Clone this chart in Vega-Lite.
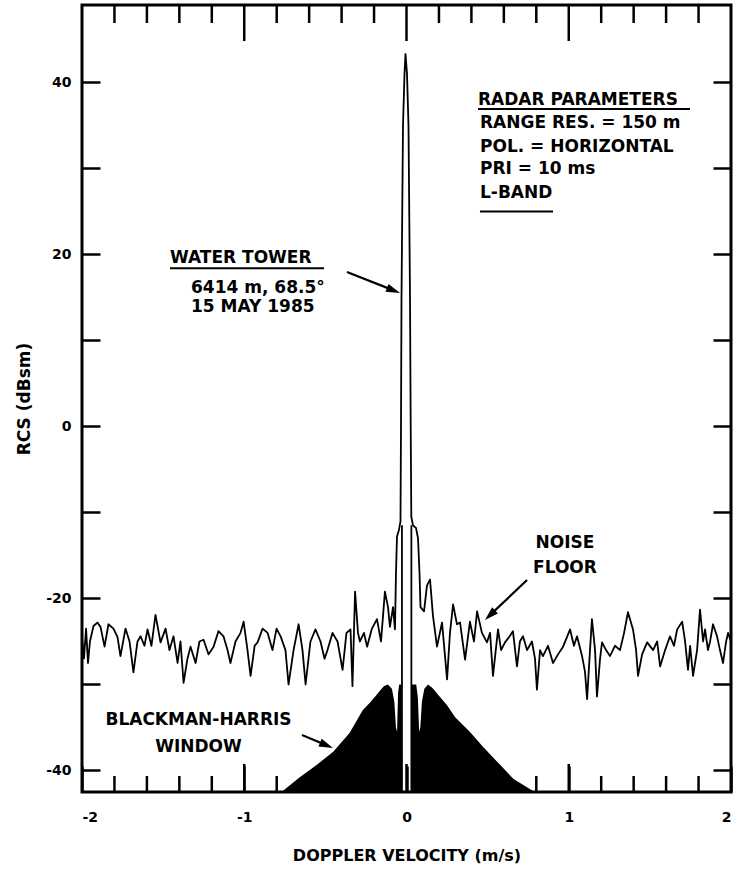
{
  "$schema": "https://vega.github.io/schema/vega-lite/v6.json",
  "autosize": "none",
  "width": 649,
  "height": 787,
  "padding": {"left": 82, "top": 5, "right": 2, "bottom": 84},
  "background": "white",
  "config": {
    "view": {"stroke": "black", "strokeWidth": 3},
    "axis": {"domain": false, "grid": false, "ticks": true, "tickColor": "black", "tickWidth": 2.5, "labelColor": "black", "labelFont": "DejaVu Sans", "labelFontWeight": "bold", "labelFontSize": 14, "titleFont": "DejaVu Sans", "titleFontWeight": "bold", "titleColor": "black", "titleFontSize": 16},
    "text": {"font": "DejaVu Sans", "fontWeight": "bold", "fontSize": 17, "color": "black"}
  },
  "resolve": {"axis": {"x": "independent", "y": "independent"}},
  "datasets": {
    "window": [
      {"v": -0.77, "rcs": -42.5}, {"v": -0.66, "rcs": -40.8}, {"v": -0.55, "rcs": -39.3}, {"v": -0.45, "rcs": -37.8}, {"v": -0.35, "rcs": -35.6}, {"v": -0.27, "rcs": -33}, {"v": -0.22, "rcs": -32}, {"v": -0.175, "rcs": -31}, {"v": -0.14, "rcs": -30.2}, {"v": -0.115, "rcs": -30}, {"v": -0.09, "rcs": -30.5}, {"v": -0.075, "rcs": -32}, {"v": -0.065, "rcs": -35}, {"v": -0.058, "rcs": -35.5}, {"v": -0.052, "rcs": -31}, {"v": -0.045, "rcs": -30}, {"v": -0.032, "rcs": -30}, {"v": -0.028, "rcs": -42.5}, {"v": 0.03, "rcs": -42.5}, {"v": 0.034, "rcs": -30}, {"v": 0.06, "rcs": -30}, {"v": 0.07, "rcs": -31.5}, {"v": 0.078, "rcs": -35.5}, {"v": 0.085, "rcs": -35}, {"v": 0.095, "rcs": -32}, {"v": 0.11, "rcs": -30.5}, {"v": 0.133, "rcs": -30}, {"v": 0.16, "rcs": -30.4}, {"v": 0.2, "rcs": -31.3}, {"v": 0.25, "rcs": -32.4}, {"v": 0.3, "rcs": -33.8}, {"v": 0.39, "rcs": -35.5}, {"v": 0.47, "rcs": -37.2}, {"v": 0.56, "rcs": -39}, {"v": 0.66, "rcs": -41}, {"v": 0.79, "rcs": -42.5}
    ],
    "core": [{"v": -0.028}, {"v": 0.03}],
    "minorTicks": [{"v": -1.8}, {"v": -1.6}, {"v": -1.4}, {"v": -1.2}, {"v": -0.8}, {"v": -0.6}, {"v": -0.4}, {"v": -0.2}, {"v": 0.2}, {"v": 0.4}, {"v": 0.6}, {"v": 0.8}, {"v": 1.2}, {"v": 1.4}, {"v": 1.6}, {"v": 1.8}],
    "majorTicks": [{"v": -1}, {"v": 0}, {"v": 1}],
    "noise": [
      {"v": -2.0, "rcs": -24.5}, {"v": -1.988, "rcs": -27}, {"v": -1.975, "rcs": -23.5}, {"v": -1.963, "rcs": -27.5}, {"v": -1.951, "rcs": -25}, {"v": -1.929, "rcs": -23.2}, {"v": -1.905, "rcs": -22.8}, {"v": -1.886, "rcs": -23.3}, {"v": -1.861, "rcs": -25.6}, {"v": -1.837, "rcs": -23}, {"v": -1.806, "rcs": -23.5}, {"v": -1.781, "rcs": -24.5}, {"v": -1.763, "rcs": -26.7}, {"v": -1.732, "rcs": -23.5}, {"v": -1.707, "rcs": -25}, {"v": -1.683, "rcs": -28.6}, {"v": -1.658, "rcs": -25}, {"v": -1.639, "rcs": -24.4}, {"v": -1.615, "rcs": -25.5}, {"v": -1.596, "rcs": -23.6}, {"v": -1.572, "rcs": -25.5}, {"v": -1.547, "rcs": -21.9}, {"v": -1.516, "rcs": -25.1}, {"v": -1.485, "rcs": -23.5}, {"v": -1.461, "rcs": -26}, {"v": -1.436, "rcs": -24.4}, {"v": -1.411, "rcs": -27.5}, {"v": -1.393, "rcs": -25}, {"v": -1.374, "rcs": -29.8}, {"v": -1.35, "rcs": -27}, {"v": -1.331, "rcs": -25.6}, {"v": -1.3, "rcs": -27.5}, {"v": -1.276, "rcs": -25}, {"v": -1.251, "rcs": -24.8}, {"v": -1.22, "rcs": -26.5}, {"v": -1.189, "rcs": -25.6}, {"v": -1.159, "rcs": -23.8}, {"v": -1.128, "rcs": -24.4}, {"v": -1.103, "rcs": -26}, {"v": -1.085, "rcs": -27.5}, {"v": -1.054, "rcs": -25}, {"v": -1.023, "rcs": -24}, {"v": -1.004, "rcs": -22.7}, {"v": -0.98, "rcs": -26}, {"v": -0.961, "rcs": -29}, {"v": -0.936, "rcs": -25.5}, {"v": -0.918, "rcs": -25.1}, {"v": -0.887, "rcs": -23.5}, {"v": -0.856, "rcs": -24}, {"v": -0.826, "rcs": -26}, {"v": -0.801, "rcs": -23.5}, {"v": -0.776, "rcs": -24.4}, {"v": -0.746, "rcs": -26}, {"v": -0.727, "rcs": -30}, {"v": -0.696, "rcs": -26}, {"v": -0.665, "rcs": -23}, {"v": -0.641, "rcs": -26}, {"v": -0.622, "rcs": -30}, {"v": -0.592, "rcs": -25}, {"v": -0.561, "rcs": -23.6}, {"v": -0.53, "rcs": -25}, {"v": -0.505, "rcs": -27}, {"v": -0.487, "rcs": -26}, {"v": -0.456, "rcs": -24}, {"v": -0.425, "rcs": -25}, {"v": -0.394, "rcs": -28.3}, {"v": -0.37, "rcs": -24}, {"v": -0.345, "rcs": -23.6}, {"v": -0.333, "rcs": -30.2}, {"v": -0.317, "rcs": -19.2}, {"v": -0.299, "rcs": -24}, {"v": -0.287, "rcs": -25}, {"v": -0.262, "rcs": -24}, {"v": -0.243, "rcs": -25.6}, {"v": -0.213, "rcs": -23.5}, {"v": -0.182, "rcs": -22.4}, {"v": -0.157, "rcs": -25}, {"v": -0.133, "rcs": -19.2}, {"v": -0.114, "rcs": -21}, {"v": -0.102, "rcs": -23.3}, {"v": -0.083, "rcs": -21}, {"v": -0.071, "rcs": -23.6}, {"v": -0.0647, "rcs": -17}, {"v": -0.0586, "rcs": -12.8}, {"v": -0.0462, "rcs": -12}, {"v": -0.037, "rcs": -11}, {"v": -0.0339, "rcs": 0}, {"v": -0.0308, "rcs": 15}, {"v": -0.0216, "rcs": 35}, {"v": -0.0123, "rcs": 41}, {"v": -0.0062, "rcs": 43.3}, {"v": 0.0031, "rcs": 41}, {"v": 0.0123, "rcs": 35}, {"v": 0.0216, "rcs": 15}, {"v": 0.0259, "rcs": 0}, {"v": 0.0296, "rcs": -10.5}, {"v": 0.04, "rcs": -11.5}, {"v": 0.0586, "rcs": -11.8}, {"v": 0.0709, "rcs": -13}, {"v": 0.0801, "rcs": -17}, {"v": 0.0863, "rcs": -21}, {"v": 0.108, "rcs": -21.5}, {"v": 0.126, "rcs": -18.5}, {"v": 0.145, "rcs": -17.8}, {"v": 0.163, "rcs": -22}, {"v": 0.188, "rcs": -25.6}, {"v": 0.219, "rcs": -22.8}, {"v": 0.25, "rcs": -29.4}, {"v": 0.268, "rcs": -24}, {"v": 0.287, "rcs": -20.7}, {"v": 0.311, "rcs": -23}, {"v": 0.33, "rcs": -22.8}, {"v": 0.361, "rcs": -27.1}, {"v": 0.391, "rcs": -22.7}, {"v": 0.416, "rcs": -25}, {"v": 0.435, "rcs": -21.5}, {"v": 0.465, "rcs": -24}, {"v": 0.496, "rcs": -25.1}, {"v": 0.515, "rcs": -24}, {"v": 0.533, "rcs": -29}, {"v": 0.564, "rcs": -23.6}, {"v": 0.583, "rcs": -26}, {"v": 0.607, "rcs": -25.1}, {"v": 0.632, "rcs": -24.5}, {"v": 0.656, "rcs": -23.8}, {"v": 0.681, "rcs": -27.9}, {"v": 0.699, "rcs": -25}, {"v": 0.718, "rcs": -24.4}, {"v": 0.743, "rcs": -26}, {"v": 0.773, "rcs": -25}, {"v": 0.792, "rcs": -27}, {"v": 0.804, "rcs": -30.6}, {"v": 0.823, "rcs": -26}, {"v": 0.841, "rcs": -26.7}, {"v": 0.872, "rcs": -25.5}, {"v": 0.903, "rcs": -27.5}, {"v": 0.934, "rcs": -26.5}, {"v": 0.965, "rcs": -25.6}, {"v": 0.989, "rcs": -24.5}, {"v": 1.008, "rcs": -23.6}, {"v": 1.032, "rcs": -25.5}, {"v": 1.051, "rcs": -24.4}, {"v": 1.082, "rcs": -26.7}, {"v": 1.1, "rcs": -28.5}, {"v": 1.113, "rcs": -31.7}, {"v": 1.131, "rcs": -26}, {"v": 1.143, "rcs": -22.4}, {"v": 1.162, "rcs": -26}, {"v": 1.174, "rcs": -31.4}, {"v": 1.193, "rcs": -27}, {"v": 1.205, "rcs": -25.1}, {"v": 1.23, "rcs": -26}, {"v": 1.254, "rcs": -26.7}, {"v": 1.285, "rcs": -25.5}, {"v": 1.316, "rcs": -26}, {"v": 1.341, "rcs": -24}, {"v": 1.365, "rcs": -21.6}, {"v": 1.396, "rcs": -23.6}, {"v": 1.415, "rcs": -26}, {"v": 1.427, "rcs": -29}, {"v": 1.452, "rcs": -26.5}, {"v": 1.483, "rcs": -25.1}, {"v": 1.52, "rcs": -26}, {"v": 1.545, "rcs": -25}, {"v": 1.563, "rcs": -27.9}, {"v": 1.594, "rcs": -26}, {"v": 1.624, "rcs": -24.4}, {"v": 1.649, "rcs": -25.5}, {"v": 1.668, "rcs": -23.6}, {"v": 1.699, "rcs": -22.7}, {"v": 1.717, "rcs": -25}, {"v": 1.735, "rcs": -28.3}, {"v": 1.748, "rcs": -25.5}, {"v": 1.766, "rcs": -29}, {"v": 1.791, "rcs": -26}, {"v": 1.809, "rcs": -21.3}, {"v": 1.828, "rcs": -25}, {"v": 1.84, "rcs": -23.6}, {"v": 1.858, "rcs": -26}, {"v": 1.871, "rcs": -25}, {"v": 1.889, "rcs": -23}, {"v": 1.914, "rcs": -24.4}, {"v": 1.932, "rcs": -26}, {"v": 1.951, "rcs": -27.5}, {"v": 1.97, "rcs": -25}, {"v": 1.982, "rcs": -24}, {"v": 2.0, "rcs": -25}
    ]
  },
  "layer": [
    {
      "data": {"name": "window"},
      "mark": {"type": "area", "color": "black", "opacity": 1},
      "encoding": {
        "x": {"field": "v", "type": "quantitative", "scale": {"domain": [-2, 2], "nice": false, "zero": false},
          "axis": {"orient": "bottom", "values": [-2, -1, 0, 1, 2], "tickSize": -26, "labelPadding": 44, "labelFlush": true, "labelExpr": "datum.value < 0 ? '-' + abs(datum.value) : '' + datum.value", "title": "DOPPLER VELOCITY (m/s)", "titlePadding": 23}},
        "y": {"field": "rcs", "type": "quantitative", "scale": {"domain": [-42.5, 49], "nice": false, "zero": false},
          "axis": {"orient": "left", "values": [-40, -30, -20, -10, 0, 10, 20, 30, 40], "tickSize": -18, "labelPadding": 29, "labelExpr": "datum.value % 20 === 0 ? (datum.value < 0 ? '-' + abs(datum.value) : '' + datum.value) : ''", "title": "RCS (dBsm)", "titleFontSize": 17, "titlePadding": 12}},
        "y2": {"datum": -42.5}
      }
    },
    {
      "data": {"name": "noise"},
      "mark": {"type": "line", "color": "black", "strokeWidth": 1.8, "strokeJoin": "round"},
      "encoding": {
        "x": {"field": "v", "type": "quantitative", "scale": {"domain": [-2, 2], "nice": false, "zero": false}, "axis": null},
        "y": {"field": "rcs", "type": "quantitative", "scale": {"domain": [-42.5, 49], "nice": false, "zero": false},
          "axis": {"orient": "right", "values": [-40, -30, -20, -10, 0, 10, 20, 30, 40], "tickSize": -18, "labels": false, "title": null}}
      }
    },
    {
      "data": {"name": "core"},
      "mark": {"type": "rule", "color": "black", "strokeWidth": 1.8},
      "encoding": {
        "x": {"field": "v", "type": "quantitative", "axis": null},
        "y": {"datum": -42.5, "axis": null},
        "y2": {"datum": -11.5}
      }
    },
    {
      "data": {"name": "minorTicks"},
      "mark": {"type": "rule", "color": "black", "strokeWidth": 2.5},
      "encoding": {"x": {"field": "v", "type": "quantitative", "axis": null}, "y": {"datum": -42.5, "axis": null}, "y2": {"datum": -40.64}}
    },
    {
      "data": {"name": "minorTicks"},
      "mark": {"type": "rule", "color": "black", "strokeWidth": 2.5},
      "encoding": {"x": {"field": "v", "type": "quantitative", "axis": null}, "y": {"datum": 49, "axis": null}, "y2": {"datum": 46.91}}
    },
    {
      "data": {"name": "majorTicks"},
      "mark": {"type": "rule", "color": "black", "strokeWidth": 2.5},
      "encoding": {"x": {"field": "v", "type": "quantitative", "axis": null}, "y": {"datum": -42.5, "axis": null}, "y2": {"datum": -39.24}}
    },
    {
      "data": {"name": "majorTicks"},
      "mark": {"type": "rule", "color": "black", "strokeWidth": 2.5},
      "encoding": {"x": {"field": "v", "type": "quantitative", "axis": null}, "y": {"datum": 49, "axis": null}, "y2": {"datum": 44.81}}
    },
    {
      "data": {"values": [{}]},
      "mark": {"type": "rule", "color": "black", "strokeWidth": 2.2},
      "encoding": {"x": {"datum": -0.367, "axis": null}, "x2": {"datum": -0.08}, "y": {"datum": 17.96, "axis": null}, "y2": {"datum": 15.82}}
    },
    {
      "data": {"values": [{}]},
      "mark": {"type": "point", "shape": "M1,0L-1,-0.6L-1,0.6Z", "filled": true, "color": "black", "opacity": 1, "size": 196, "angle": 21.6},
      "encoding": {"x": {"datum": -0.08, "axis": null}, "y": {"datum": 15.82, "axis": null}}
    },
    {
      "data": {"values": [{}]},
      "mark": {"type": "rule", "color": "black", "strokeWidth": 2.2},
      "encoding": {"x": {"datum": 0.743, "axis": null}, "x2": {"datum": 0.5146}, "y": {"datum": -17.85, "axis": null}, "y2": {"datum": -21.94}}
    },
    {
      "data": {"values": [{}]},
      "mark": {"type": "point", "shape": "M1,0L-1,-0.6L-1,0.6Z", "filled": true, "color": "black", "opacity": 1, "size": 196, "angle": 136.4},
      "encoding": {"x": {"datum": 0.5146, "axis": null}, "y": {"datum": -21.94, "axis": null}}
    },
    {
      "data": {"values": [{}]},
      "mark": {"type": "rule", "color": "black", "strokeWidth": 2.2},
      "encoding": {"x": {"datum": -0.644, "axis": null}, "x2": {"datum": -0.493}, "y": {"datum": -35.87, "axis": null}, "y2": {"datum": -37.07}}
    },
    {
      "data": {"values": [{}]},
      "mark": {"type": "point", "shape": "M1,0L-1,-0.6L-1,0.6Z", "filled": true, "color": "black", "opacity": 1, "size": 196, "angle": 22.75},
      "encoding": {"x": {"datum": -0.493, "axis": null}, "y": {"datum": -37.07, "axis": null}}
    },
    {
      "data": {"values": [{}]},
      "mark": {"type": "rule", "color": "black", "strokeWidth": 2},
      "encoding": {"x": {"datum": 0.4407, "axis": null}, "x2": {"datum": 1.7473}, "y": {"datum": 36.91, "axis": null}}
    },
    {
      "data": {"values": [{}]},
      "mark": {"type": "rule", "color": "black", "strokeWidth": 2},
      "encoding": {"x": {"datum": 0.453, "axis": null}, "x2": {"datum": 0.903}, "y": {"datum": 25.0, "axis": null}}
    },
    {
      "data": {"values": [{}]},
      "mark": {"type": "rule", "color": "black", "strokeWidth": 2},
      "encoding": {"x": {"datum": -1.4576, "axis": null}, "x2": {"datum": -0.5085}, "y": {"datum": 18.4, "axis": null}}
    },
    {
      "data": {"values": [{}]},
      "mark": {"type": "text", "align": "left", "baseline": "alphabetic"},
      "encoding": {"x": {"datum": 0.4407, "axis": null}, "y": {"datum": 37.37, "axis": null}, "text": {"value": "RADAR PARAMETERS"}}
    },
    {
      "data": {"values": [{}]},
      "mark": {"type": "text", "align": "left", "baseline": "alphabetic"},
      "encoding": {"x": {"datum": 0.453, "axis": null}, "y": {"datum": 34.7, "axis": null}, "text": {"value": "RANGE RES. = 150 m"}}
    },
    {
      "data": {"values": [{}]},
      "mark": {"type": "text", "align": "left", "baseline": "alphabetic"},
      "encoding": {"x": {"datum": 0.453, "axis": null}, "y": {"datum": 31.91, "axis": null}, "text": {"value": "POL. = HORIZONTAL"}}
    },
    {
      "data": {"values": [{}]},
      "mark": {"type": "text", "align": "left", "baseline": "alphabetic"},
      "encoding": {"x": {"datum": 0.453, "axis": null}, "y": {"datum": 29.35, "axis": null}, "text": {"value": "PRI = 10 ms"}}
    },
    {
      "data": {"values": [{}]},
      "mark": {"type": "text", "align": "left", "baseline": "alphabetic"},
      "encoding": {"x": {"datum": 0.453, "axis": null}, "y": {"datum": 26.56, "axis": null}, "text": {"value": "L-BAND"}}
    },
    {
      "data": {"values": [{}]},
      "mark": {"type": "text", "align": "left", "baseline": "alphabetic"},
      "encoding": {"x": {"datum": -1.4576, "axis": null}, "y": {"datum": 18.99, "axis": null}, "text": {"value": "WATER TOWER"}}
    },
    {
      "data": {"values": [{}]},
      "mark": {"type": "text", "align": "left", "baseline": "alphabetic"},
      "encoding": {"x": {"datum": -1.3282, "axis": null}, "y": {"datum": 15.52, "axis": null}, "text": {"value": "6414 m, 68.5°"}}
    },
    {
      "data": {"values": [{}]},
      "mark": {"type": "text", "align": "left", "baseline": "alphabetic"},
      "encoding": {"x": {"datum": -1.3282, "axis": null}, "y": {"datum": 13.31, "axis": null}, "text": {"value": "15 MAY 1985"}}
    },
    {
      "data": {"values": [{}]},
      "mark": {"type": "text", "align": "center", "baseline": "alphabetic"},
      "encoding": {"x": {"datum": 0.9769, "axis": null}, "y": {"datum": -14.13, "axis": null}, "text": {"value": "NOISE"}}
    },
    {
      "data": {"values": [{}]},
      "mark": {"type": "text", "align": "center", "baseline": "alphabetic"},
      "encoding": {"x": {"datum": 0.9769, "axis": null}, "y": {"datum": -17.04, "axis": null}, "text": {"value": "FLOOR"}}
    },
    {
      "data": {"values": [{}]},
      "mark": {"type": "text", "align": "center", "baseline": "alphabetic"},
      "encoding": {"x": {"datum": -1.282, "axis": null}, "y": {"datum": -34.71, "axis": null}, "text": {"value": "BLACKMAN-HARRIS"}}
    },
    {
      "data": {"values": [{}]},
      "mark": {"type": "text", "align": "center", "baseline": "alphabetic"},
      "encoding": {"x": {"datum": -1.282, "axis": null}, "y": {"datum": -37.85, "axis": null}, "text": {"value": "WINDOW"}}
    }
  ]
}
